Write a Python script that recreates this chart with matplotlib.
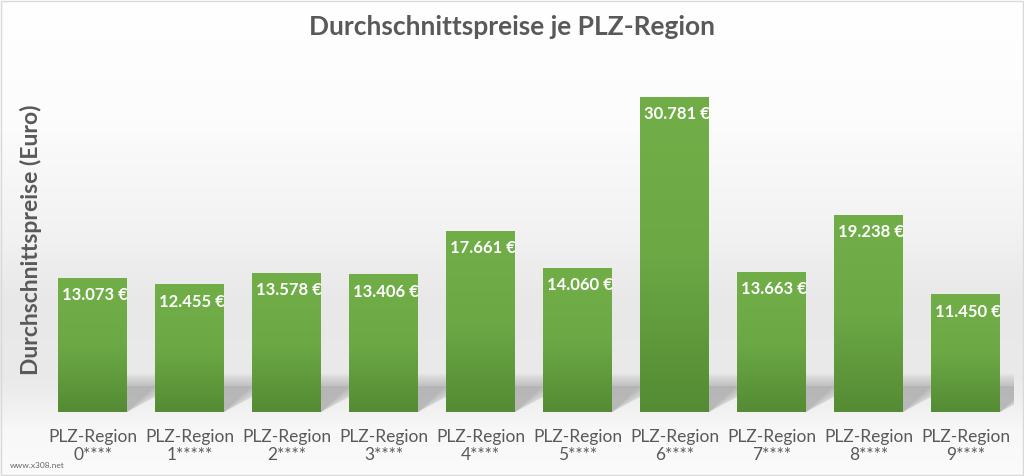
import matplotlib
matplotlib.use("Agg")
import matplotlib.pyplot as plt
import numpy as np
from matplotlib.colors import LinearSegmentedColormap
from matplotlib.patches import Polygon, Rectangle

categories = ["PLZ-Region\n0****", "PLZ-Region\n1*****", "PLZ-Region\n2****", "PLZ-Region\n3****",
              "PLZ-Region\n4****", "PLZ-Region\n5****", "PLZ-Region\n6****", "PLZ-Region\n7****",
              "PLZ-Region\n8****", "PLZ-Region\n9****"]
values = [13073, 12455, 13578, 13406, 17661, 14060, 30781, 13663, 19238, 11450]
value_labels = ["13.073 €", "12.455 €", "13.578 €", "13.406 €", "17.661 €",
                "14.060 €", "30.781 €", "13.663 €", "19.238 €", "11.450 €"]
title = "Durchschnittspreise je PLZ-Region"
ylabel = "Durchschnittspreise (Euro)"

plt.rcParams['font.family'] = ['Lato', 'DejaVu Sans']
W, H = 1024, 476
fig = plt.figure(figsize=(W / 100, H / 100), dpi=100)

# background gradient
bg = fig.add_axes([0, 0, 1, 1], zorder=-10)
ys = np.array([0, 120, 230, 300, 340, 380, 412, 430, 476])
gs = np.array([255, 252, 242, 232, 233, 234, 242, 248, 251]) / 255
yy = np.arange(H)
col = np.interp(yy, ys, gs)
img = np.repeat(col[:, None], 4, axis=1)
img = np.dstack([img, img, img])
bg.imshow(img, aspect='auto', extent=[0, 1, 0, 1], origin='upper')
bg.set_xlim(0, 1); bg.set_ylim(0, 1)
bg.axis('off')
bg.add_patch(Rectangle((0.001, 0.002), 0.998, 0.996, fill=False, ec='#d9d9d9', lw=1.0))

ax = fig.add_axes([44 / W, 64 / H, 970 / W, 352 / H])
ax.set_facecolor('none')
x = np.arange(len(values))
width = 0.71
bars = ax.bar(x, values, width=width, color='#62a03f', zorder=3)
ax.set_xlim(-0.5, len(values) - 0.5)
ypx = 97.8
ax.set_ylim(0, 352 * ypx)

# gradient in bars
gcmap = LinearSegmentedColormap.from_list('g', ['#548b34', '#6ca945', '#72ae48'])
grad = np.linspace(0, 1, 256)[:, None]
for b in bars:
    x0, w, h = b.get_x(), b.get_width(), b.get_height()
    ax.imshow(grad, cmap=gcmap, aspect='auto', origin='lower',
              extent=[x0, x0 + w, 0, h], zorder=3.5, interpolation='bicubic')

# soft shadows cast to the right of each bar
dx = 1 - width
for b in bars:
    xr = b.get_x() + b.get_width()
    for top in [38, 36, 34, 32, 30, 28]:
        poly = Polygon([(xr, 0), (xr, top * ypx), (xr + dx, top * ypx),
                        (xr + dx, (top - 12) * ypx)],
                       closed=True, fc='#707070', ec='none', alpha=0.06, zorder=1)
        ax.add_patch(poly)
    poly = Polygon([(xr, 0), (xr, 26 * ypx), (xr + dx, 26 * ypx), (xr + dx, 15 * ypx)],
                   closed=True, fc='#808080', ec='none', alpha=0.2, zorder=1)
    ax.add_patch(poly)
ax.set_xlim(-0.5, len(values) - 0.5)

for b, lab in zip(bars, value_labels):
    ax.text(b.get_x() + b.get_width() / 2 + 0.02, b.get_height() - 17 * ypx, lab,
            ha='center', va='center', color='white', fontsize=12, fontweight='bold', zorder=5)

ax.set_xticks(x)
ax.set_xticklabels(categories, fontsize=12.5, color='#595959', linespacing=1.2)
ax.tick_params(axis='x', length=0, pad=12)
ax.set_yticks([])
for s in ax.spines.values():
    s.set_visible(False)

ax.set_ylabel(ylabel, fontsize=16.5, fontweight='bold', color='#595959')
ax.yaxis.set_label_coords(-2 / 970, 0.49)

fig.text(0.5, 1 - 27 / H, title, ha='center', va='center', fontsize=19,
         fontweight='bold', color='#595959')
fig.text(10 / W, 1 - 465 / H, "www.x308.net", ha='left', va='center', fontsize=6,
         color='#666666')

fig.savefig('out.png', dpi=100)
